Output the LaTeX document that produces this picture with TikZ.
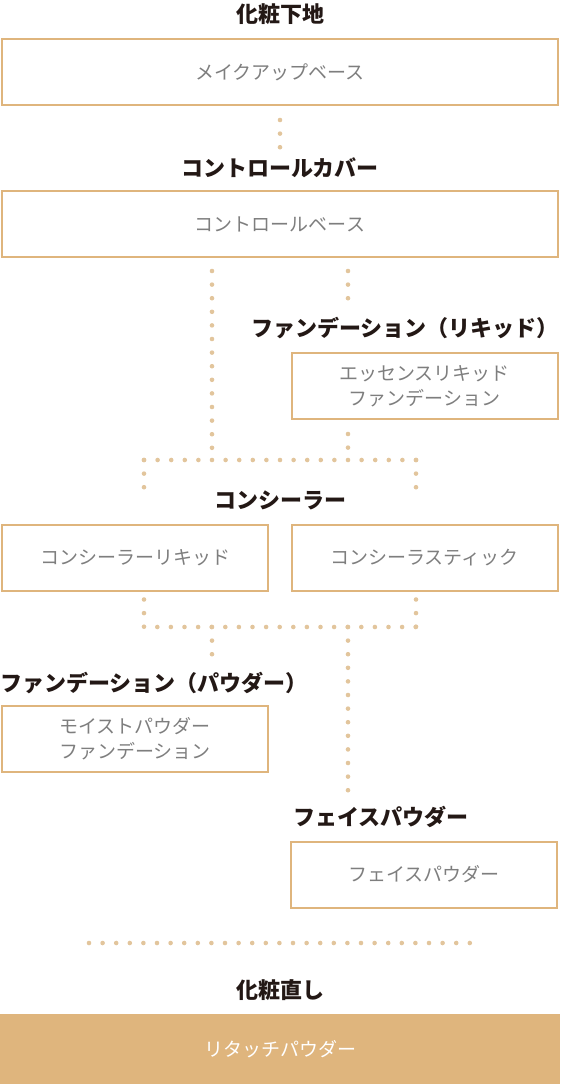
\documentclass[tikz,border=0pt]{standalone}
\usepackage{fontspec}
\newfontfamily\jpfont{Noto Sans CJK JP}
\usetikzlibrary{positioning}
\definecolor{tanline}{HTML}{DFB57D}
\definecolor{dotc}{HTML}{E2C59C}
\definecolor{boxtext}{HTML}{7E7E7E}
\definecolor{headc}{HTML}{231815}

\begin{document}
\begin{tikzpicture}[x=1pt,y=-1pt,
head/.style={font=\jpfont\bfseries\fontsize{22}{25}\selectfont,text=headc,inner sep=0pt},
box/.style={draw=tanline,line width=2pt,minimum height=66pt,inner sep=0pt,align=center,text=boxtext,font=\jpfont\fontsize{19}{25}\selectfont},
wide/.style={box,minimum width=556pt},
half/.style={box,minimum width=266pt},
dots/.style={draw=dotc,line width=4.6pt,line cap=round,dash pattern=on 0pt off 13.6pt}]
\useasboundingbox (0,0) rectangle (560,1084);
\node[head] (base) at (280,14) {化粧下地};
\node[wide] (makeup) at (280,72) {メイクアップベース};
\node[head] (ctrl) at (280,168) {コントロールカバー};
\node[wide] (ctrlbase) at (280,224) {コントロールベース};
\node[head,anchor=east] (liquid) at (559,328) {ファンデーション（リキッド）};
\node[half] (essence) at (424.5,386) {エッセンスリキッド\\ファンデーション};
\node[head] (conc) at (280,500) {コンシーラー};
\node[half] (concliq) at (135,558) {コンシーラーリキッド};
\node[half] (concstick) at (424.5,558) {コンシーラスティック};
\node[head,anchor=west] (powder) at (0,683) {ファンデーション（パウダー）};
\node[half] (moist) at (135,739) {モイストパウダー\\ファンデーション};
\node[head,anchor=west] (face) at (293,817) {フェイスパウダー};
\node[half] (facebox) at (424,874.5) {フェイスパウダー};
\node[head] (fix) at (280,990) {化粧直し};
\node[fill=tanline,minimum width=560pt,minimum height=70pt,inner sep=0pt,text=white,font=\jpfont\fontsize{19}{25}\selectfont] (retouch) at (280,1049) {リタッチパウダー};
\coordinate (a1) at (280,120); \coordinate (a2) at (280,148);
\coordinate (b1) at (212,271); \coordinate (b2) at (212,460.5);
\coordinate (c1) at (348,271); \coordinate (c2) at (348,299);
\coordinate (c3) at (348,434); \coordinate (c4) at (348,448.5);
\coordinate (m1) at (144,460); \coordinate (m2) at (416.5,460);
\coordinate (l1) at (144,488); \coordinate (r1) at (416,488);
\coordinate (l2) at (144,599.5); \coordinate (r2) at (416,599.5);
\coordinate (n1) at (144,627); \coordinate (n2) at (416.5,627);
\coordinate (p1) at (212,655); \coordinate (q1) at (348,791);
\coordinate (s1) at (89,943); \coordinate (s2) at (470.5,943);
\draw[dots] (a1) -- (a2);
\draw[dots] (b1) -- (b2);
\draw[dots] (c1) -- (c2);
\draw[dots] (c3) -- (c4);
\draw[dots] (m1) -- (m2);
\draw[dots] (m1) -- (l1);
\draw[dots] (416,460) -- (r1);
\draw[dots] (l2) -- (n1) -- (n2);
\draw[dots] (r2) -- (416,627.5);
\draw[dots] (212,627) -- (p1);
\draw[dots] (348,627) -- (q1);
\draw[dots] (s1) -- (s2);
\end{tikzpicture}
\end{document}
